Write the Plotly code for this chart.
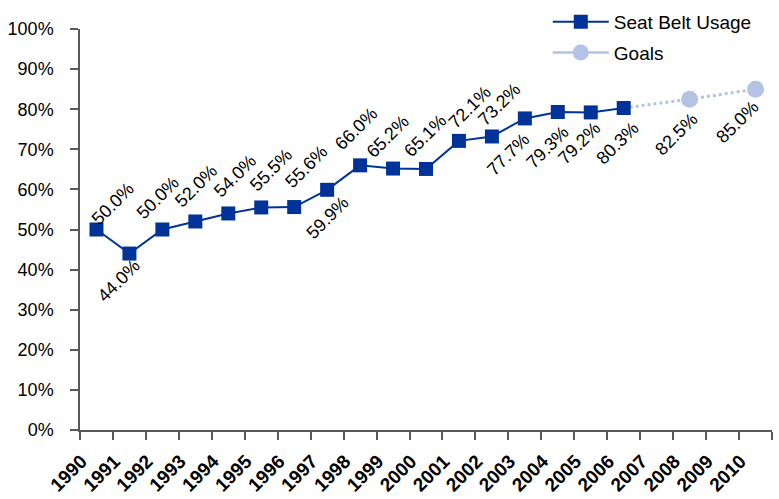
import plotly.graph_objects as go

years = [str(y) for y in range(1990, 2011)]
usage_years = [str(y) for y in range(1990, 2007)]
usage = [50.0, 44.0, 50.0, 52.0, 54.0, 55.5, 55.6, 59.9, 66.0, 65.2, 65.1,
         72.1, 73.2, 77.7, 79.3, 79.2, 80.3]
goal_years = ["2008", "2010"]
goals = [82.5, 85.0]

# label placement (pixel offsets of label centre from its marker: right, down)
usage_label_offset = [(16, -26), (-11, 27), (-5, -32), (1, -35), (7, -37),
                      (10, -37), (12, -40), (0, 28), (-4, -36), (-6, -32),
                      (-1, -33), (11, -34), (8, -32), (-16, 36), (-10, 35),
                      (-11, 31), (-6, 35)]
goal_label_offset = [(-13, 35), (-18, 33)]

DARK = "#003399"
LIGHT = "#B4C3E3"
AXIS = "#595959"
FONT = "Liberation Sans, Arial"

fig = go.Figure()
# dotted goal path: last measured value -> goals
fig.add_trace(go.Scatter(
    x=[usage_years[-1]] + goal_years, y=[usage[-1]] + goals,
    mode="lines", line=dict(color=LIGHT, width=3, dash="dot"),
    showlegend=False, hoverinfo="skip"))
fig.add_trace(go.Scatter(
    x=goal_years, y=goals, mode="markers", name="Goals",
    marker=dict(symbol="circle", size=17, color=LIGHT),
    showlegend=False))
# legend entry for goals (solid line + circle, as in the reference legend)
fig.add_trace(go.Scatter(
    x=[None], y=[None], mode="lines+markers", name="Goals",
    line=dict(color=LIGHT, width=2.5),
    marker=dict(symbol="circle", size=17, color=LIGHT),
    legendgroup="g", legendrank=2))
fig.add_trace(go.Scatter(
    x=usage_years, y=usage, mode="lines+markers", name="Seat Belt Usage",
    line=dict(color=DARK, width=2),
    marker=dict(symbol="square", size=14, color=DARK),
    legendgroup="s", legendrank=1))

annotations = []
for yr, v, (dx, dy) in zip(usage_years + goal_years, usage + goals,
                           usage_label_offset + goal_label_offset):
    annotations.append(dict(x=years.index(yr), y=v, xref="x", yref="y",
                            text=f"{v:.1f}%", showarrow=False,
                            textangle=-45, xshift=dx, yshift=-dy,
                            font=dict(family=FONT, size=18, color="#000000")))

fig.update_layout(
    width=779, height=499,
    margin=dict(l=80, r=7, t=29, b=69, autoexpand=False),
    plot_bgcolor="white", paper_bgcolor="white",
    font=dict(family=FONT, size=18, color="#000000"),
    annotations=annotations,
    legend=dict(x=0.676, y=1.065, xanchor="left", yanchor="top",
                font=dict(family=FONT, size=19, color="#000000"),
                bgcolor="rgba(0,0,0,0)", itemwidth=56, tracegroupgap=3),
    xaxis=dict(type="category", categoryorder="array", categoryarray=years,
               tickvals=years, ticktext=years,
               range=[-0.5, len(years) - 0.5], automargin=False,
               tickson="boundaries", ticks="outside", ticklen=8,
               tickcolor=AXIS, tickwidth=1.5, showline=True, linecolor=AXIS,
               linewidth=1.5, showgrid=False, tickangle=-45,
               tickfont=dict(family=FONT, size=19, color="#000000", weight="bold"),
               ticklabelshift=-15, ticklabelstandoff=11),
    yaxis=dict(range=[0, 100], tickvals=list(range(0, 101, 10)),
               ticktext=[f"{t}%" for t in range(0, 101, 10)],
               automargin=False,
               ticks="outside", ticklen=8, tickcolor=AXIS, tickwidth=1.5,
               showline=True, linecolor=AXIS, linewidth=1.5,
               showgrid=False, zeroline=False,
               tickfont=dict(family=FONT, size=18, color="#000000"),
               ticklabelstandoff=13),
)

fig.write_html("out.html", config={"displayModeBar": False},
               post_script="document.body.style.margin='0px';")
